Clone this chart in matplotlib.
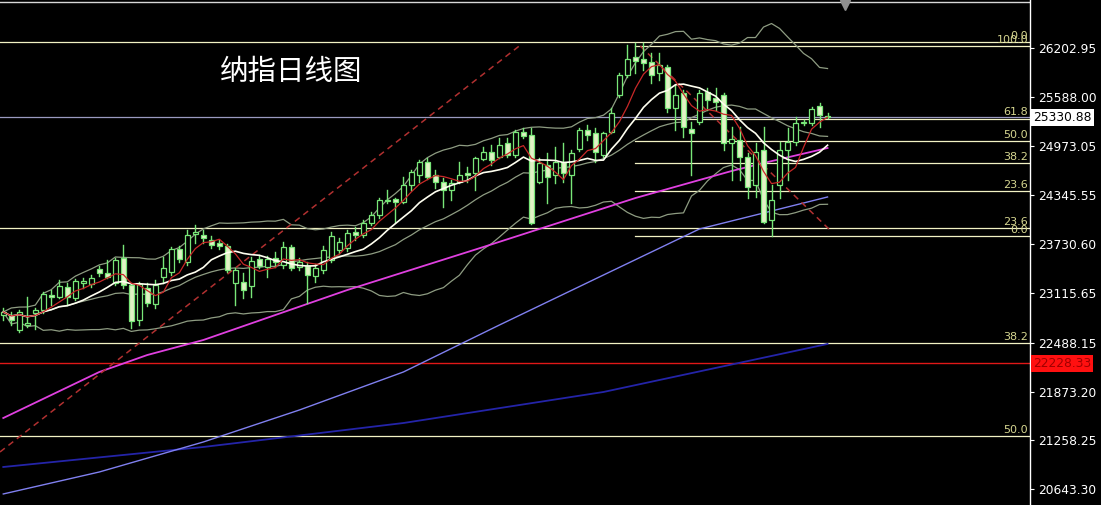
import matplotlib
matplotlib.use('Agg')
import matplotlib.pyplot as plt
import numpy as np
import pandas as pd
from matplotlib.patches import Rectangle

# ---------------- data (daily candles, price units) ----------------
opens = [22839, 22839, 22650, 22713, 22864, 22902, 23091, 23066, 23192, 23053,
         23242, 23230, 23419, 23368, 23242, 23557, 23217, 22776, 23179, 22978,
         23318, 23381, 23671, 23507, 23860, 23847, 23784, 23746, 23708, 23242,
         23255, 23204, 23545, 23444, 23557, 23469, 23696, 23444, 23456, 23330,
         23406, 23532, 23658, 23683, 23885, 23847, 23998, 24099, 24275, 24301,
         24263, 24477, 24603, 24767, 24603, 24515, 24414, 24515, 24628, 24628,
         24805, 24893, 24830, 25006, 24855, 25145, 25107, 24515, 24729, 24603,
         24767, 24603, 24931, 25170, 25132, 24855, 25145, 25611, 25863, 26090,
         26065, 26027, 25888, 25964, 25447, 25636, 25183, 25271, 25649, 25573,
         25611, 25006, 25044, 24830, 24477, 24918, 24036, 24477, 24918, 25019,
         25258, 25258, 25472, 25350]
highs = [22927, 22877, 22902, 23066, 22927, 23129, 23154, 23280, 23242, 23293,
         23305, 23343, 23456, 23532, 23557, 23721, 23242, 23255, 23242, 23280,
         23570, 23696, 23708, 23910, 23973, 23910, 23834, 23784, 23734, 23431,
         23368, 23570, 23595, 23582, 23633, 23759, 23721, 23557, 23507, 23482,
         23708, 23885, 23809, 23910, 23948, 24036, 24137, 24313, 24414, 24313,
         24578, 24666, 24792, 24817, 24666, 24565, 24540, 24767, 24704, 24830,
         24956, 24981, 25069, 25069, 25170, 25195, 25195, 24817, 24880, 24956,
         25006, 24918, 25195, 25233, 25195, 25145, 25447, 25888, 26241, 26266,
         26266, 26140, 26140, 25989, 25737, 25674, 25271, 25674, 25699, 25699,
         25636, 25208, 25208, 24880, 25006, 25208, 24477, 25019, 25195, 25334,
         25296, 25460, 25510, 25384]
lows = [22776, 22713, 22625, 22688, 22663, 22864, 22965, 23053, 22965, 23028,
        23179, 23192, 23330, 23305, 23217, 23179, 22675, 22713, 22952, 22927,
        23242, 23343, 23507, 23469, 23746, 23746, 23683, 23671, 23381, 22965,
        23053, 23066, 23431, 23318, 23444, 23431, 23406, 23406, 22990, 23255,
        23368, 23507, 23620, 23645, 23784, 23822, 23973, 24061, 24250, 24011,
        24250, 24414, 24515, 24553, 24439, 24200, 24288, 24502, 24515, 24414,
        24792, 24729, 24817, 24830, 24830, 25069, 23986, 24502, 24250, 24502,
        24515, 24250, 24905, 25044, 24767, 24830, 25132, 25586, 25838, 25888,
        25926, 25762, 25800, 25397, 25170, 25082, 24603, 25246, 25422, 25422,
        24918, 24540, 24540, 24313, 24326, 23998, 23834, 24313, 24540, 24981,
        25233, 25233, 25208, 25320]
closes = [22877, 22776, 22877, 22738, 22902, 23104, 23066, 23204, 23066, 23267,
          23267, 23305, 23368, 23318, 23532, 23217, 22763, 23230, 22990, 23217,
          23431, 23671, 23545, 23847, 23885, 23809, 23721, 23708, 23406, 23406,
          23154, 23519, 23456, 23545, 23507, 23696, 23431, 23507, 23343, 23431,
          23658, 23834, 23759, 23872, 23847, 23998, 24099, 24288, 24288, 24263,
          24477, 24641, 24767, 24578, 24515, 24414, 24502, 24603, 24603, 24817,
          24893, 24792, 24981, 24855, 25145, 25094, 23998, 24754, 24578, 24767,
          24628, 24880, 25170, 25107, 24893, 25132, 25384, 25863, 26065, 26039,
          26014, 25863, 25989, 25447, 25611, 25208, 25132, 25636, 25548, 25523,
          25006, 25057, 24830, 24452, 24893, 24011, 24288, 24918, 25019, 25258,
          25271, 25435, 25359, 25331]

# long moving averages (candle index, price)
ma60_idx = [0, 6, 12, 18, 25, 43, 60, 79, 87, 91, 95, 103]
ma60_val = [21541, 21831, 22121, 22335, 22524, 23154, 23696, 24313, 24540, 24653, 24754, 24943]
ma120_idx = [0, 12, 25, 37, 50, 62, 75, 81, 87, 95, 103]
ma120_val = [20584, 20861, 21239, 21642, 22121, 22713, 23343, 23633, 23923, 24124, 24326]
ma250_idx = [0, 25, 50, 75, 103]
ma250_val = [20924, 21176, 21478, 21869, 22474]

# trend lines (index, price)
trend_up = ([-0.41, 64.8], [21113, 26254])
trend_down = ([79.6, 103.3], [26228, 23910])

# Fibonacci sets
fib1_levels = [100.0, 61.8, 50.0, 38.2, 23.6, 0.0]
fib1_hi, fib1_lo = 26228, 23834
fib2_levels = [0.0, 23.6, 38.2, 50.0]
fib2_top, fib2_range = 26279, 9932

price_now = 25330.88
price_red = 22228.33
y_ticks = [26202.95, 25588.00, 24973.05, 24345.55, 23730.60,
           23115.65, 22488.15, 21873.20, 21258.25, 20643.30]
title = "纳指日线图"

# ---------------- figure ----------------
W, H = 1101, 505
YMIN, YMAX = 20445, 26808
fig = plt.figure(figsize=(W / 100, H / 100), dpi=100, facecolor='black')
ax = fig.add_axes([0, 0, 1030 / W, 1])
ax.set_facecolor('black')
XMIN, XMAX = -0.41, 128.3
ax.set_xlim(XMIN, XMAX)
ax.set_ylim(YMIN, YMAX)
for s in ['top', 'left', 'bottom']:
    ax.spines[s].set_visible(False)
ax.spines['right'].set_color('white')
ax.spines['right'].set_linewidth(1)
ax.set_xticks([])
ax.yaxis.tick_right()
ax.set_yticks(y_ticks)
ax.set_yticklabels([f"{v:.2f}" for v in y_ticks])
ax.tick_params(axis='y', colors='white', labelcolor='white', length=3,
               width=0.8, pad=3, labelsize=8.8)

# top frame line
ax.axhline(26780, color='#d8d8d8', lw=1)

# fib lines
fibc = '#f2f2c4'
labc = '#d6d690'
x1_start = 78.96
for r in fib2_levels:
    p = fib2_top - r / 100 * fib2_range
    ax.axhline(p, color=fibc, lw=0.9, zorder=1)
    ax.text(XMAX - 0.25, p + 18, f"{r:.1f}", color=labc, fontsize=8,
            ha='right', va='bottom', zorder=6)
for r in fib1_levels:
    p = fib1_lo + r / 100 * (fib1_hi - fib1_lo)
    ax.plot([x1_start, XMAX], [p, p], color=fibc, lw=0.9, zorder=1)
    ax.text(XMAX - 0.25, p + 18, f"{r:.1f}", color=labc, fontsize=8,
            ha='right', va='bottom', zorder=6)

# price lines
ax.axhline(price_now, color='#9a9ac0', lw=0.9, zorder=1)
ax.axhline(price_red, color='#e01818', lw=1, zorder=1)

# indicators
c = pd.Series(closes, dtype=float)
idx = np.arange(len(closes))
ma5 = c.rolling(5, min_periods=1).mean()
ma10 = c.rolling(10, min_periods=1).mean()
mid = c.rolling(20, min_periods=1).mean()
sd = c.rolling(20, min_periods=1).std(ddof=0)
upper = mid + 2 * sd
lower = mid - 2 * sd

bbc = '#8e9c82'
ax.plot(idx, upper, color=bbc, lw=0.9, zorder=2)
ax.plot(idx, mid, color=bbc, lw=0.9, zorder=2)
ax.plot(idx, lower, color=bbc, lw=0.9, zorder=2)
ax.plot(ma250_idx, ma250_val, color='#2424a8', lw=1.3, zorder=2)
ax.plot(ma120_idx, ma120_val, color='#8080f0', lw=1.0, zorder=2)
ax.plot(ma60_idx, ma60_val, color='#e040e0', lw=1.3, zorder=2)
ax.plot(idx, ma10, color='#fffff0', lw=1.2, zorder=4)
ax.plot(idx, ma5, color='#c82828', lw=0.9, zorder=4)

# trend lines
ax.plot(*trend_up, color='#b03030', lw=1.1, ls=(0, (4, 3)), zorder=2)
ax.plot(*trend_down, color='#b03030', lw=1.1, ls=(0, (4, 3)), zorder=2)

# candles
edge = '#78e678'
bear_fill = '#e2f2c6'
bw = 0.62
for i, (o, h, l, cl) in enumerate(zip(opens, highs, lows, closes)):
    ax.plot([i, i], [l, h], color=edge, lw=1.0, zorder=3)
    lo_b, hi_b = min(o, cl), max(o, cl)
    hgt = max(hi_b - lo_b, 10)
    fc = 'black' if cl >= o else bear_fill
    ax.add_patch(Rectangle((i - bw / 2, lo_b), bw, hgt, facecolor=fc,
                           edgecolor=edge, lw=0.9, zorder=3.5))

# title
ax.text(291 / 1030 * (XMAX - XMIN) + XMIN, YMAX - 72 * (YMAX - YMIN) / H, title,
        color='white', fontsize=20.5, family=['Noto Sans CJK SC', 'DejaVu Sans'],
        ha='center', va='center', zorder=7)

# marker triangle at top
ax.plot([(845 - 3.3) / 8], [YMAX - 5 * (YMAX - YMIN) / H], marker='v',
        color='#909090', markersize=7, clip_on=False, zorder=7)

# price boxes on the axis
def fy(p):
    return (p - YMIN) / (YMAX - YMIN)

fig.text(1033 / W, fy(price_now), f"{price_now:.2f}", color='black',
         fontsize=8.8, ha='left', va='center',
         bbox=dict(boxstyle='square,pad=0.18', fc='white', ec='none'))
fig.text(1033 / W, fy(price_red), f"{price_red:.2f}", color='#a00000',
         fontsize=8.8, ha='left', va='center',
         bbox=dict(boxstyle='square,pad=0.18', fc='#ff1010', ec='none'))

fig.savefig('out.png', dpi=100, facecolor='black')
